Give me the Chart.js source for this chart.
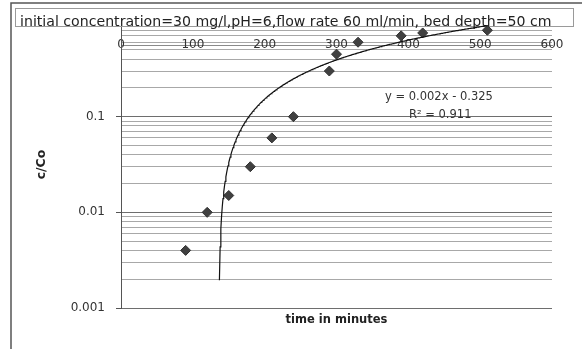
<!DOCTYPE html>
<html>
<head>
<meta charset="utf-8">
<script src="https://cdn.jsdelivr.net/npm/chart.js@4.4.1/dist/chart.umd.min.js"></script>
<style>
  html, body { margin: 0; padding: 0; background: #fff; }
  #wrap { width: 582px; height: 349px; position: relative; }
</style>
</head>
<body>
<div id="wrap"><canvas id="chart" width="582" height="349"></canvas></div>
<script>
// breakthrough data
const timeMinutes = [90, 120, 150, 180, 210, 240, 290, 300, 330, 390, 420, 510];
const cOverCo = [0.004, 0.01, 0.015, 0.03, 0.06, 0.1, 0.3, 0.45, 0.6, 0.7, 0.75, 0.8];

const titleText = 'initial concentration=30 mg/l,pH=6,flow rate 60 ml/min, bed depth=50 cm';
const equationText = 'y = 0.002x - 0.325';
const r2Text = 'R² = 0.911';
const yLabelValues = [0.001, 0.01, 0.1];
const decades = [0.001, 0.01, 0.1];
const multipliers = [1, 2, 3, 4, 5, 6, 7, 8, 9];

// log gridlines 0.001 .. 1
const yGrid = [];
decades.forEach(d => multipliers.forEach(m => yGrid.push(+(d * m).toPrecision(3))));
yGrid.push(1);

// linear trendline (least squares) like excel
const n = timeMinutes.length;
const mx = timeMinutes.reduce((a, b) => a + b, 0) / n;
const my = cOverCo.reduce((a, b) => a + b, 0) / n;
let sxy = 0, sxx = 0;
for (let i = 0; i < n; i++) {
    sxy += (timeMinutes[i] - mx) * (cOverCo[i] - my);
    sxx += (timeMinutes[i] - mx) * (timeMinutes[i] - mx);
}
const slope = sxy / sxx;
const intercept = my - slope * mx;
const trend = [];
for (let x = timeMinutes[0]; x <= timeMinutes[n - 1]; x += 1) {
    const y = slope * x + intercept;
    if (y > 0) trend.push({ x: x, y: y });
}

const isDecade = (v) => Math.abs(Math.log10(v) - Math.round(Math.log10(v))) < 1e-6;

const decorPlugin = {
    id: 'decor',
    beforeDatasetsDraw(chart) {
        const ctx = chart.ctx;
        ctx.save();
        // title box
        ctx.fillStyle = '#fff';
        ctx.fillRect(15, 8, 558, 19);
        ctx.strokeStyle = '#9a9a9a';
        ctx.lineWidth = 1;
        ctx.strokeRect(15.5, 8.5, 558, 18);
        // title text, fitted to width
        let size = 12;
        ctx.font = size + 'px "DejaVu Sans"';
        size = size * 532 / ctx.measureText(titleText).width;
        ctx.font = size + 'px "DejaVu Sans"';
        ctx.fillStyle = '#222';
        ctx.textBaseline = 'middle';
        ctx.textAlign = 'left';
        ctx.fillText(titleText, 20, 22);
        ctx.restore();
    },
    afterDatasetsDraw(chart) {
        const ctx = chart.ctx;
        ctx.save();
        ctx.fillStyle = '#333';
        ctx.font = '11.5px "DejaVu Sans"';
        ctx.textBaseline = 'middle';
        ctx.textAlign = 'left';
        ctx.fillText(equationText, 385, 97);
        ctx.fillText(r2Text, 409, 115);
        // outer chart border
        ctx.strokeStyle = '#555';
        ctx.lineWidth = 1.5;
        ctx.beginPath();
        ctx.moveTo(11, 349);
        ctx.lineTo(11, 3);
        ctx.lineTo(582, 3);
        ctx.stroke();
        ctx.restore();
    }
};

new Chart(document.getElementById('chart'), {
    type: 'scatter',
    data: {
        datasets: [
            {
                label: 'trend',
                data: trend,
                showLine: true,
                borderColor: '#111',
                borderWidth: 1.2,
                pointRadius: 0,
                tension: 0,
                order: 0
            },
            {
                label: 'c/Co',
                data: timeMinutes.map((t, i) => ({ x: t, y: cOverCo[i] })),
                pointStyle: 'rectRot',
                pointRadius: 5,
                backgroundColor: '#404040',
                borderColor: '#303030',
                borderWidth: 1,
                order: 1
            }
        ]
    },
    options: {
        responsive: false,
        animation: false,
        devicePixelRatio: 1,
        layout: { padding: { left: 10, right: 30, top: 21, bottom: 0 } },
        plugins: { legend: { display: false }, tooltip: { enabled: false }, title: { display: false } },
        scales: {
            x: {
                type: 'linear',
                min: 0,
                max: 600,
                position: { y: 0.56 },
                ticks: { stepSize: 100, padding: -7, maxRotation: 0, color: '#333', font: { family: 'DejaVu Sans', size: 12 } },
                grid: { color: 'rgba(0,0,0,0)', drawTicks: false },
                border: { display: true, color: '#8a8a8a', width: 1 },
                afterFit: (s) => { s.height = 0; }
            },
            x2: {
                type: 'linear',
                axis: 'x',
                position: 'bottom',
                min: 0,
                max: 600,
                ticks: { display: false },
                grid: { display: false },
                border: { display: false },
                title: { display: true, text: 'time in minutes', color: '#222', font: { family: 'DejaVu Sans', size: 11.5, weight: 'bold' }, padding: { top: 0, bottom: 22 } },
                afterFit: (s) => { s.height = 41; }
            },
            y: {
                type: 'logarithmic',
                min: 0.001,
                max: 1,
                afterBuildTicks: (s) => { s.ticks = yGrid.map(v => ({ value: v, major: isDecade(v) })); },
                ticks: {
                    autoSkip: false,
                    padding: 11,
                    color: '#333',
                    font: { family: 'DejaVu Sans', size: 12 },
                    callback: (v) => yLabelValues.some(l => Math.abs(l - v) < 1e-9) ? String(v) : ''
                },
                grid: {
                    color: (c) => (c.tick && isDecade(c.tick.value)) ? '#6e6e6e' : '#a8a8a8',
                    tickColor: (c) => (c.tick && isDecade(c.tick.value)) ? '#555' : 'rgba(0,0,0,0)',
                    tickLength: 5,
                    lineWidth: 1
                },
                border: { display: true, color: '#555', width: 1 },
                title: { display: true, text: 'c/Co', color: '#222', font: { family: 'DejaVu Sans', size: 12.5, weight: 'bold' }, padding: { top: 24, bottom: 0 } },
                afterFit: (s) => { s.width = 111; }
            }
        }
    },
    plugins: [decorPlugin]
});
</script>
</body>
</html>
